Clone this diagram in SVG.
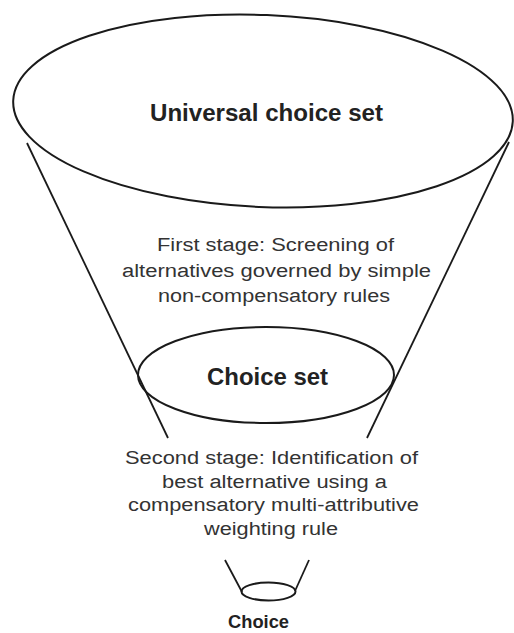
<svg xmlns="http://www.w3.org/2000/svg" width="514" height="633" viewBox="0 0 514 633">
<style>
.shape{fill:none;stroke:#1a1a1a;stroke-width:2}
.line{stroke:#1a1a1a;stroke-width:1.8;fill:none}
.lbl{font-family:"Liberation Sans",Arial,sans-serif;font-size:18px;fill:#333}
.bold{font-family:"Liberation Sans",Arial,sans-serif;font-weight:bold;fill:#222}
</style>
<rect width="514" height="633" fill="#fff"/>
<g id="connectors">
<line class="line" x1="27" y1="143" x2="168" y2="438"/>
<line class="line" x1="509" y1="142" x2="367" y2="438"/>
<line class="line" x1="225" y1="560" x2="242" y2="592"/>
<line class="line" x1="309" y1="560" x2="295" y2="591"/>
</g>
<g id="universal">
<ellipse class="shape" cx="263" cy="111" rx="250" ry="96" transform="rotate(2.4 263 111)"/>
<text class="bold" x="150" y="121" font-size="23" textLength="233" lengthAdjust="spacingAndGlyphs">Universal choice set</text>
</g>
<g id="first-stage">
<text class="lbl" x="157" y="251" textLength="237" lengthAdjust="spacingAndGlyphs">First stage: Screening of</text>
<text class="lbl" x="122" y="276.5" textLength="309" lengthAdjust="spacingAndGlyphs">alternatives governed by simple</text>
<text class="lbl" x="158" y="302" textLength="232" lengthAdjust="spacingAndGlyphs">non-compensatory rules</text>
</g>
<g id="choice-set">
<ellipse class="shape" cx="266" cy="375" rx="128" ry="48"/>
<text class="bold" x="207" y="385" font-size="24" textLength="121" lengthAdjust="spacingAndGlyphs">Choice set</text>
</g>
<g id="second-stage">
<text class="lbl" x="125" y="464" textLength="293" lengthAdjust="spacingAndGlyphs">Second stage: Identification of</text>
<text class="lbl" x="162" y="487.5" textLength="225" lengthAdjust="spacingAndGlyphs">best alternative using a</text>
<text class="lbl" x="128" y="511" textLength="291" lengthAdjust="spacingAndGlyphs">compensatory multi-attributive</text>
<text class="lbl" x="204" y="535" textLength="134" lengthAdjust="spacingAndGlyphs">weighting rule</text>
</g>
<g id="choice">
<ellipse class="shape" cx="268.5" cy="591.5" rx="27" ry="9"/>
<text class="bold" x="228" y="628" font-size="19" textLength="61" lengthAdjust="spacingAndGlyphs">Choice</text>
</g>
</svg>
